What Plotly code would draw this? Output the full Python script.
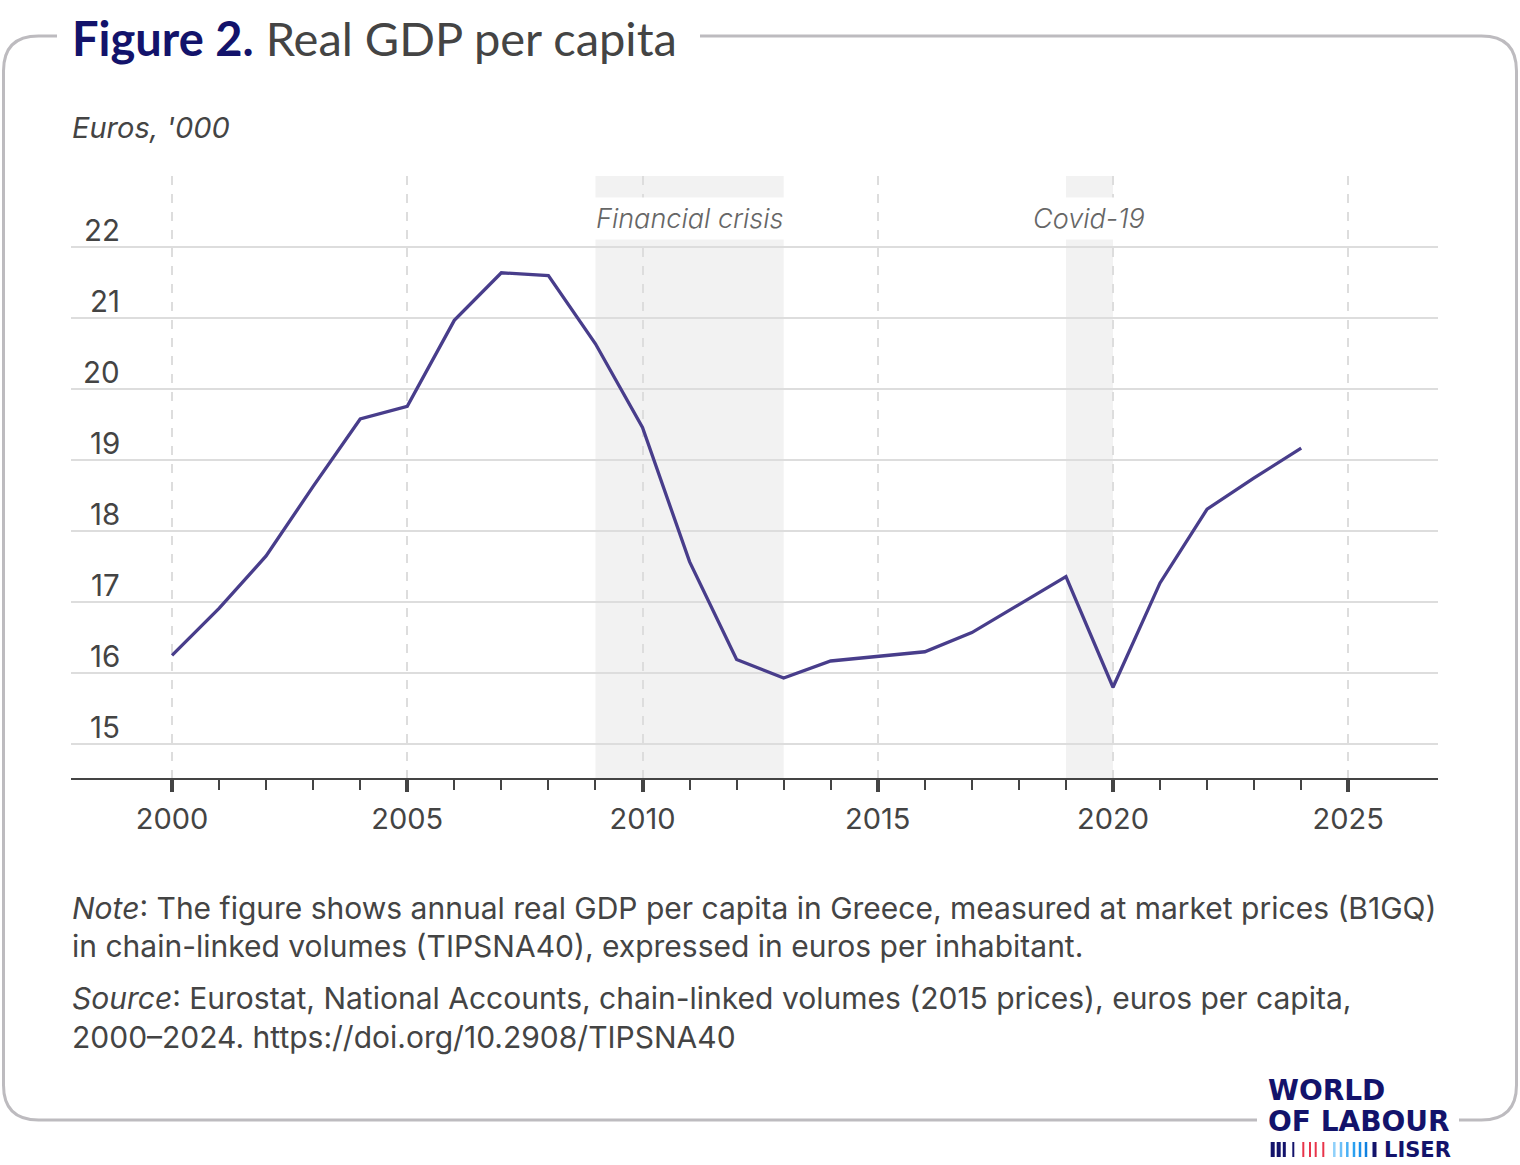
import plotly.graph_objects as go

# ---------------- data ----------------
years = list(range(2000, 2025))
gdp_per_capita = [16.25, 16.91, 17.65, 18.63, 19.58, 19.76, 20.97, 21.64, 21.60, 20.64,
                  19.46, 17.57, 16.19, 15.93, 16.17, 16.24, 16.30, 16.57, 16.97, 17.36,
                  15.80, 17.27, 18.31, 18.75, 19.17]

y_tick_vals = [15, 16, 17, 18, 19, 20, 21, 22]
y_tick_text = ["15", "16", "17", "18", "19", "20", "21", "22"]
y_grid_vals = [15, 16, 17, 18, 19, 20, 21, 22, 23]
x_tick_vals = [2000, 2005, 2010, 2015, 2020, 2025]
x_tick_text = ["2000", "2005", "2010", "2015", "2020", "2025"]
x_minor_vals = [2001, 2002, 2003, 2004, 2006, 2007, 2008, 2009, 2011, 2012, 2013, 2014,
                2016, 2017, 2018, 2019, 2021, 2022, 2023, 2024]

period_labels = ["Financial crisis", "Covid-19"]
period_start = [2009, 2019]
period_end = [2013, 2020]

title_bold = "Figure 2."
title_rest = "Real GDP per capita"
unit_label = "Euros, '000"
note_lines = [
    "<i>Note</i>: The figure shows annual real GDP per capita in Greece, measured at market prices (B1GQ)",
    "in chain-linked volumes (TIPSNA40), expressed in euros per inhabitant.",
]
source_lines = [
    "<i>Source</i>: Eurostat, National Accounts, chain-linked volumes (2015 prices), euros per capita,",
    "2000\u20132024. https://doi.org/10.2908/TIPSNA40",
]

# ---------------- layout geometry ----------------
W, H = 1520, 1165
L, R, T, B = 71, 1438, 176, 778


def px(x):
    return (x - L) / (R - L)


def py(y):
    return (B - y) / (B - T)


TXT = "#444444"
NAVY = "#13136b"
LINE = "#483d8b"

fig = go.Figure()

fig.add_trace(go.Scatter(
    x=years, y=gdp_per_capita, mode="lines",
    line=dict(color=LINE, width=3.3), showlegend=False, hoverinfo="x+y",
))

shapes = []
annotations = []

# shaded periods
for lab, s, e in zip(period_labels, period_start, period_end):
    shapes.append(dict(type="rect", xref="x", yref="paper", x0=s, x1=e, y0=0, y1=1,
                       fillcolor="#f2f2f2", line=dict(width=0), layer="below"))
    annotations.append(dict(
        x=(s + e) / 2, xref="x", y=py(218), yref="paper", text=lab, showarrow=False,
        xanchor="center", yanchor="middle", bgcolor="white", borderpad=4,
        font=dict(family="Inter", size=27, color="#666666", style="italic", weight=300),
    ))

# y tick labels sitting above the gridlines
for v, t in zip(y_tick_vals, y_tick_text):
    annotations.append(dict(
        x=px(122), xref="paper", y=v, yref="y", yshift=17, text=t, showarrow=False,
        xanchor="right", yanchor="middle",
        font=dict(family="Inter", size=29.5, color=TXT),
    ))

# title
annotations.append(dict(
    x=px(70), xref="paper", y=py(38), yref="paper", showarrow=False,
    xanchor="left", yanchor="middle",
    text=f"<b><span style='color:{NAVY}'>{title_bold}</span></b> "
         f"<span style='color:#444444'>{title_rest}</span>",
    font=dict(family="Lato", size=47, color=TXT),
))

# unit label
annotations.append(dict(
    x=px(70), xref="paper", y=py(128), yref="paper", showarrow=False,
    xanchor="left", yanchor="middle", text=f"<i>{unit_label}</i>",
    font=dict(family="Inter", size=29, color=TXT),
))

# notes
for txt, yy in zip(note_lines + source_lines, [908, 946, 998, 1037]):
    annotations.append(dict(
        x=px(70), xref="paper", y=py(yy), yref="paper", showarrow=False,
        xanchor="left", yanchor="middle", text=txt,
        font=dict(family="Inter", size=30, color=TXT),
    ))

# logo
for txt, yy, sz in [("WORLD", 1090, 28), ("OF LABOUR", 1121, 28)]:
    annotations.append(dict(
        x=px(1266), xref="paper", y=py(yy), yref="paper", showarrow=False,
        xanchor="left", yanchor="middle", text=f"<b>{txt}</b>",
        font=dict(family="DejaVu Sans", size=sz, color=NAVY),
    ))
annotations.append(dict(
    x=px(1453), xref="paper", y=py(1150), yref="paper", showarrow=False,
    xanchor="right", yanchor="middle", text="<b>LISER</b>",
    font=dict(family="DejaVu Sans", size=21, color=NAVY),
))
bar_x = [1272.7, 1278.7, 1284.3, 1293.3, 1303.3, 1310, 1315.7, 1323.3,
         1334.3, 1341, 1347.3, 1354, 1360, 1366, 1374.5]
bar_c = [NAVY, NAVY, NAVY, NAVY, "#e8344a", "#e8344a", "#e8344a", "#e8344a",
         "#8fd0fa", "#6cc0f8", "#4ab0f5", "#2aa0f0", "#1a90ea", "#0f80e0", NAVY]
bar_w = [4, 4, 3, 2, 2, 2, 2, 2, 2.5, 2.5, 2.5, 2.5, 2.5, 2.5, 4]
for bx, bc, bw in zip(bar_x, bar_c, bar_w):
    shapes.append(dict(type="line", xref="paper", yref="paper",
                       x0=px(bx), x1=px(bx), y0=py(1142), y1=py(1157),
                       line=dict(color=bc, width=bw), layer="above"))


# frame (rounded box, interrupted by the title and the logo)
def pth(pts):
    out = []
    for cmd, *xy in pts:
        coords = []
        for i in range(0, len(xy), 2):
            coords.append(f"{px(xy[i]):.5f},{py(xy[i + 1]):.5f}")
        out.append(cmd + " " + " ".join(coords))
    return " ".join(out)


FR = "#bdbbbf"
xl, xr, yt, yb, rad = 3.5, 1516.5, 36, 1120, 35
shapes.append(dict(type="path", xref="paper", yref="paper", layer="above",
                   line=dict(color=FR, width=3),
                   path=pth([("M", 57, yt), ("L", xl + rad, yt), ("Q", xl, yt, xl, yt + rad),
                             ("L", xl, yb - rad), ("Q", xl, yb, xl + rad, yb), ("L", 1257, yb)])))
shapes.append(dict(type="path", xref="paper", yref="paper", layer="above",
                   line=dict(color=FR, width=3),
                   path=pth([("M", 1459, yb), ("L", xr - rad, yb), ("Q", xr, yb, xr, yb - rad),
                             ("L", xr, yt + rad), ("Q", xr, yt, xr - rad, yt), ("L", 700, yt)])))

fig.update_layout(
    width=W, height=H,
    margin=dict(l=L, r=W - R, t=T, b=H - B, pad=0),
    paper_bgcolor="white", plot_bgcolor="white",
    showlegend=False,
    shapes=shapes, annotations=annotations,
    xaxis=dict(
        range=[2000 - (172 - L) / 47.05, 2000 + (R - 172) / 47.05],
        tickmode="array", tickvals=x_tick_vals, ticktext=x_tick_text,
        showline=True, linecolor=TXT, linewidth=2,
        ticks="outside", ticklen=12, tickwidth=3.5, tickcolor=TXT,
        showgrid=True, gridcolor="#dddddd", gridwidth=1.5, griddash="dash",
        zeroline=False,
        tickfont=dict(family="Inter", size=29, color=TXT),
        ticklabelstandoff=2,
        minor=dict(ticks="outside", tickmode="array", tickvals=x_minor_vals,
                   ticklen=10, tickwidth=2, tickcolor=TXT, showgrid=False),
        fixedrange=True,
    ),
    yaxis=dict(
        range=[15 - 34 / 71, 23.004],
        tickmode="array", tickvals=y_grid_vals, showticklabels=False,
        showgrid=True, gridcolor="#dddddd", gridwidth=2,
        zeroline=False, showline=False, ticks="",
        fixedrange=True,
    ),
)

fig.write_html("out.html")
